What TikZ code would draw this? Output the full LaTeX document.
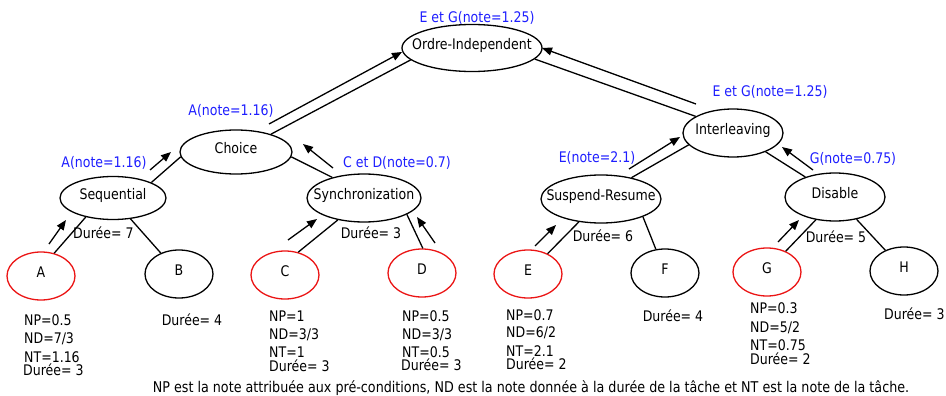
\documentclass[tikz,border=0pt]{standalone}
\usepackage{fontspec}
\setmainfont{DejaVu Sans}[FakeStretch=0.86]
\usetikzlibrary{shapes.geometric,arrows.meta,calc}
\definecolor{lblue}{RGB}{30,30,255}
\definecolor{lred}{RGB}{235,20,20}
\newcommand{\etxt}[1]{\raisebox{-1.5pt}[0pt][0pt]{\makebox[0pt]{#1}}}
\begin{document}
\begin{tikzpicture}[x=1pt,y=-1pt,
  font=\fontsize{14.6}{17}\selectfont,
  op/.style={draw=black,line width=1.3pt,ellipse,inner sep=0pt,fill=white},
  leaf/.style={op,minimum width=68pt,minimum height=48pt},
  redleaf/.style={leaf,draw=lred},
  tline/.style={line width=1.3pt},
  arr/.style={line width=1.3pt,-{Triangle[length=10pt,width=8pt]}},
  bl/.style={text=lblue,anchor=base,inner sep=0pt},
  tx/.style={anchor=base west,inner sep=0pt},
  txc/.style={anchor=base,inner sep=0pt}]
\useasboundingbox (0,0) rectangle (946,396);
% operator nodes
\node[op,minimum width=140pt,minimum height=47pt] (ord) at (472,48) {\etxt{Ordre-Independent}};
\node[op,minimum width=112pt,minimum height=44pt] (cho) at (236,152) {\etxt{Choice}};
\node[op,minimum width=106pt,minimum height=43pt] (seq) at (113,198) {\etxt{Sequential}};
\node[op,minimum width=114pt,minimum height=48pt] (syn) at (364,198) {\etxt{Synchronization}};
\node[op,minimum width=100pt,minimum height=48pt] (int) at (733,133) {\etxt{Interleaving}};
\node[op,minimum width=120pt,minimum height=48pt] (sus) at (601,199) {\etxt{Suspend-Resume}};
\node[op,minimum width=100pt,minimum height=48pt] (dis) at (835,197) {\etxt{Disable}};
% leaves
\node[redleaf] (A) at (41,276) {\etxt{A}};
\node[leaf]    (B) at (179,274) {\etxt{B}};
\node[redleaf] (C) at (285,275) {\etxt{C}};
\node[redleaf] (D) at (422,273) {\etxt{D}};
\node[redleaf] (E) at (528,274) {\etxt{E}};
\node[leaf]    (F) at (665,273) {\etxt{F}};
\node[redleaf] (G) at (767,272) {\etxt{G}};
\node[leaf]    (H) at (904,271) {\etxt{H}};
% tree lines
\draw[tline] (A.60) -- (seq.215);
\draw[tline] (seq.310) -- (B.131);
\draw[tline] (seq.22) -- (cho.185);
\draw[tline] (cho.27) -- (ord.191);
\draw[tline] (cho.355) -- (syn.147);
\draw[tline] (C.60) -- (syn.220);
\draw[tline] (syn.339) -- (D.88);
\draw[tline] (ord.350) -- (int.156);
\draw[tline] (sus.35) -- (int.195);
\draw[tline] (int.330) -- (dis.146);
\draw[tline] (E.46) -- (sus.226);
\draw[tline] (sus.337) -- (F.111);
\draw[tline] (G.48) -- (dis.230);
\draw[tline] (dis.314) -- (H.132);
% propagation arrows
\draw[arr] ($(A)+(8,-32)$) -- ($(seq)+(-47,22)$);
\draw[arr] ($(seq)+(37,-28)$) -- ($(cho)+(-65,0)$);
\draw[arr] ($(cho)+(33,-28)$) -- ($(ord)+(-70,4)$);
\draw[arr] ($(syn)+(-31,-30)$) -- ($(cho)+(67,-8)$);
\draw[arr] ($(C)+(3,-35)$) -- ($(syn)+(-47,21)$);
\draw[arr] ($(D)+(13,-30)$) -- ($(syn)+(53,19)$);
\draw[arr] ($(int)+(-37,-29)$) -- ($(ord)+(70,0)$);
\draw[arr] ($(sus)+(28,-30)$) -- ($(int)+(-53,4)$);
\draw[arr] ($(dis)+(-22,-27)$) -- ($(int)+(49,14)$);
\draw[arr] ($(E)+(7,-28)$) -- ($(sus)+(-45,26)$);
\draw[arr] ($(G)+(11,-30)$) -- ($(dis)+(-36,23)$);
% blue notes
\node[bl] (n1) at (477,23) {E et G(note=1.25)};
\node[bl] (n2) at (231,115) {A(note=1.16)};
\node[bl] (n3) at (104,167) {A(note=1.16)};
\node[bl] (n4) at (397,167) {C et D(note=0.7)};
\node[bl] (n5) at (597,162) {E(note=2.1)};
\node[bl] (n6) at (770,96) {E et G(note=1.25)};
\node[bl] (n7) at (853,163) {G(note=0.75)};
% durations of operators
\node[tx] (d1) at (73,238) {Durée= 7};
\node[txc] (d2) at (371,238) {Durée= 3};
\node[txc] (d3) at (603,241) {Durée= 6};
\node[txc] (d4) at (836,242) {Durée= 5};
% leaf data
\node[tx] (a1) at (24,325) {NP=0.5};
\node[tx] (a2) at (24,343) {ND=7/3};
\node[tx] (a3) at (24,362) {NT=1.16};
\node[tx] (a4) at (23,375) {Durée= 3};
\node[txc] (b1) at (192,325) {Durée= 4};
\node[tx] (c1) at (269,321) {NP=1};
\node[tx] (c2) at (269,339) {ND=3/3};
\node[tx] (c3) at (269,357) {NT=1};
\node[tx] (c4) at (269,371) {Durée= 3};
\node[tx] (e1) at (402,321) {NP=0.5};
\node[tx] (e2) at (402,339) {ND=3/3};
\node[tx] (e3) at (402,357) {NT=0.5};
\node[tx] (e4) at (401,370) {Durée= 3};
\node[tx] (f1) at (506,320) {NP=0.7};
\node[tx] (f2) at (506,337) {ND=6/2};
\node[tx] (f3) at (506,356) {NT=2.1};
\node[tx] (f4) at (506,369) {Durée= 2};
\node[txc] (g0) at (673,321) {Durée= 4};
\node[tx] (g1) at (750,313) {NP=0.3};
\node[tx] (g2) at (750,332) {ND=5/2};
\node[tx] (g3) at (750,350) {NT=0.75};
\node[tx] (g4) at (750,364) {Durée= 2};
\node[tx] (h1) at (884,319) {Durée= 3};
% caption
\node[anchor=base,inner sep=0pt,font=\fontsize{14.8}{17}\selectfont] (cap) at (531,392) {NP est la note attribuée aux pré-conditions, ND est la note donnée à la durée de la tâche et NT est la note de la tâche.};
\end{tikzpicture}
\end{document}
